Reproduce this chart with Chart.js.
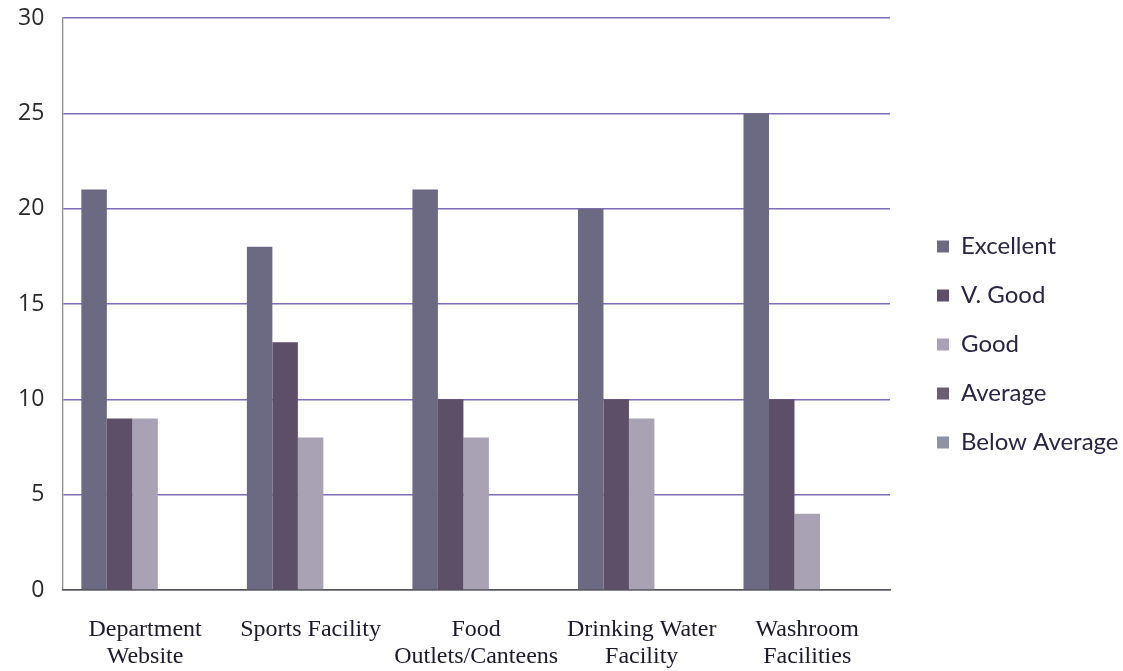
<!DOCTYPE html>
<html>
<head>
<meta charset="utf-8">
<script src="https://cdn.jsdelivr.net/npm/chart.js@4"></script>
<style>
  html, body { margin: 0; padding: 0; background: #fff; }
  #wrap { width: 1123px; height: 671px; }
</style>
</head>
<body>
<div id="wrap"><canvas id="barChart" width="1123" height="671"></canvas></div>
<script>
// chart values
const categories = [
  ["Department", "Website"],
  "Sports Facility",
  ["Food", "Outlets/Canteens"],
  ["Drinking Water", "Facility"],
  ["Washroom", "Facilities"],
];
const seriesNames = ["Excellent", "V. Good", "Good", "Average", "Below Average"];
const excellent = [21, 18, 21, 20, 25];
const veryGood = [9, 13, 10, 10, 10];
const good = [9, 8, 8, 9, 4];
const average = [0, 0, 0, 0, 0];
const belowAverage = [0, 0, 0, 0, 0];
const yTicks = [0, 5, 10, 15, 20, 25, 30];

const colors = ["#6c6982", "#5e4f68", "#a9a2b4", "#6a5f6e", "#8f93a3"];
const allValues = [excellent, veryGood, good, average, belowAverage];

const ctx = document.getElementById("barChart").getContext("2d");

// keep the legend column wide and start its items a bit away from the plot
const legendSpace = {
  id: "legendSpace",
  beforeInit(chart) {
    const fit = chart.legend.fit;
    chart.legend.fit = function () {
      fit.call(this);
      this.width = 233;
    };
  },
  afterLayout(chart) {
    chart.legend.left = 912;
    chart.legend.right = 1145;
  },
};

new Chart(ctx, {
  type: "bar",
  data: {
    labels: categories,
    datasets: seriesNames.map((name, i) => ({
      label: name,
      data: allValues[i],
      backgroundColor: colors[i],
      borderWidth: 0,
      categoryPercentage: 0.77,
      barPercentage: 1.0,
    })),
  },
  options: {
    responsive: false,
    animation: false,
    layout: {
      padding: { top: 18, right: 0, left: 0, bottom: 0 },
    },
    plugins: {
      legend: {
        position: "right",
        labels: {
          boxWidth: 12,
          boxHeight: 12,
          padding: 25,
          color: "#2a2540",
          font: { family: "Lato", size: 24 },
        },
      },
      tooltip: { enabled: false },
    },
    scales: {
      y: {
        min: 0,
        max: 30,
        afterBuildTicks: (axis) => {
          axis.ticks = yTicks.map((v) => ({ value: v }));
        },
        afterFit: (scale) => {
          scale.paddingTop = 0;
          scale.paddingBottom = 0;
        },
        grid: {
          color: "#7f6cb8",
          lineWidth: 1.4,
          drawTicks: false,
        },
        border: { color: "#8c8c8c", width: 1.3 },
        ticks: {
          padding: 18,
          color: "#2a2a2a",
          font: { family: "Open Sans", size: 23 },
        },
      },
      x: {
        afterFit: (scale) => {
          scale.height = 81;
        },
        grid: { display: false, drawTicks: false },
        border: { color: "#555", width: 1.5 },
        ticks: {
          padding: 26,
          maxRotation: 0,
          autoSkip: false,
          color: "#1a1a2a",
          font: { family: "Liberation Serif", size: 24, lineHeight: 1.13 },
        },
      },
    },
  },
  plugins: [legendSpace],
});
</script>
</body>
</html>
